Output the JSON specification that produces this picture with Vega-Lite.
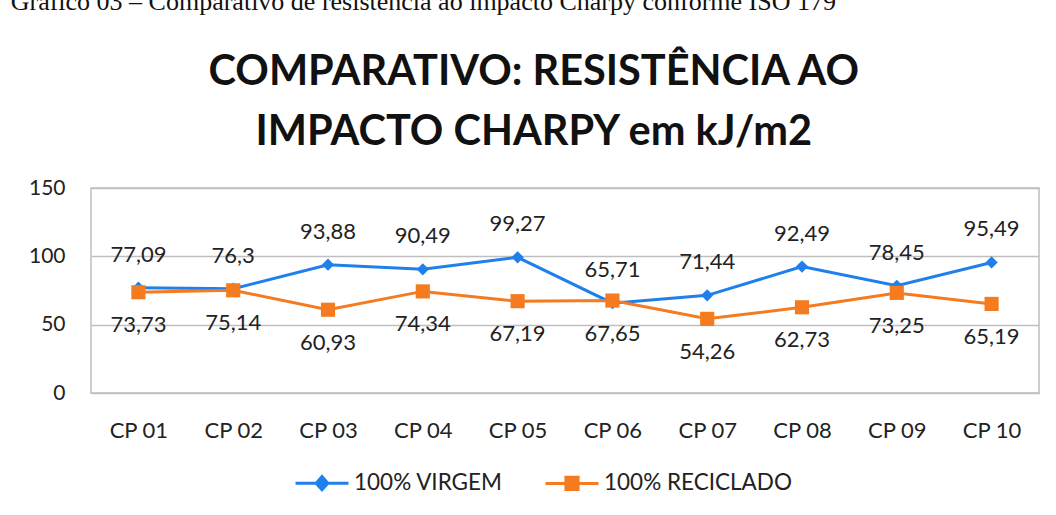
{
  "$schema": "https://vega.github.io/schema/vega-lite/v6.json",
  "background": "white",
  "padding": {"left": 10, "top": -12, "right": 14, "bottom": 0},
  "title": {
    "text": "Gráfico 03 – Comparativo de resistência ao impacto Charpy conforme ISO 179",
    "anchor": "start",
    "font": "Liberation Serif",
    "fontSize": 26,
    "fontWeight": "normal",
    "color": "#111111",
    "dx": -17,
    "offset": 36
  },
  "config": {
    "locale": {"number": {"decimal": ",", "thousands": ".", "grouping": [3], "currency": ["R$", ""]}},
    "view": {"stroke": "#BFBFBF", "strokeWidth": 1.5},
    "font": "Lato",
    "concat": {"spacing": 0}
  },
  "vconcat": [
    {
      "width": 948,
      "height": 205,
      "title": {
        "text": ["COMPARATIVO: RESISTÊNCIA AO", "IMPACTO CHARPY em kJ/m2"],
        "anchor": "middle",
        "frame": "bounds",
        "font": "Lato",
        "fontSize": 41.5,
        "fontWeight": "bold",
        "color": "#111111",
        "lineHeight": 60,
        "baseline": "alphabetic",
        "offset": -9
      },
      "data": {
        "values": [
          {"cp": "CP 01", "serie": "100% VIRGEM", "valor": 77.09},
          {"cp": "CP 02", "serie": "100% VIRGEM", "valor": 76.3},
          {"cp": "CP 03", "serie": "100% VIRGEM", "valor": 93.88},
          {"cp": "CP 04", "serie": "100% VIRGEM", "valor": 90.49},
          {"cp": "CP 05", "serie": "100% VIRGEM", "valor": 99.27},
          {"cp": "CP 06", "serie": "100% VIRGEM", "valor": 65.71},
          {"cp": "CP 07", "serie": "100% VIRGEM", "valor": 71.44},
          {"cp": "CP 08", "serie": "100% VIRGEM", "valor": 92.49},
          {"cp": "CP 09", "serie": "100% VIRGEM", "valor": 78.45},
          {"cp": "CP 10", "serie": "100% VIRGEM", "valor": 95.49},
          {"cp": "CP 01", "serie": "100% RECICLADO", "valor": 73.73},
          {"cp": "CP 02", "serie": "100% RECICLADO", "valor": 75.14},
          {"cp": "CP 03", "serie": "100% RECICLADO", "valor": 60.93},
          {"cp": "CP 04", "serie": "100% RECICLADO", "valor": 74.34},
          {"cp": "CP 05", "serie": "100% RECICLADO", "valor": 67.19},
          {"cp": "CP 06", "serie": "100% RECICLADO", "valor": 67.65},
          {"cp": "CP 07", "serie": "100% RECICLADO", "valor": 54.26},
          {"cp": "CP 08", "serie": "100% RECICLADO", "valor": 62.73},
          {"cp": "CP 09", "serie": "100% RECICLADO", "valor": 73.25},
          {"cp": "CP 10", "serie": "100% RECICLADO", "valor": 65.19}
        ]
      },
      "encoding": {
        "x": {
          "field": "cp", "type": "ordinal",
          "scale": {"type": "point", "padding": 0.5},
          "axis": {"title": null, "labelAngle": 0, "domain": false, "ticks": false, "grid": false,
                   "labelFont": "Lato", "labelFontSize": 22, "labelColor": "#222222", "labelPadding": 27}
        },
        "y": {
          "field": "valor", "type": "quantitative",
          "scale": {"domain": [0, 150], "nice": false},
          "axis": {"title": null, "values": [0, 50, 100, 150], "domain": false, "ticks": false,
                   "gridColor": "#BFBFBF", "gridWidth": 1.5,
                   "labelFont": "Lato", "labelFontSize": 21, "labelColor": "#222222", "labelPadding": 26}
        }
      },
      "layer": [
        {
          "mark": {"type": "line", "strokeWidth": 3},
          "encoding": {
            "color": {
              "field": "serie", "type": "nominal",
              "scale": {"domain": ["100% VIRGEM", "100% RECICLADO"], "range": ["#1F7FEB", "#F47B20"]},
              "legend": {
                "title": null, "orient": "none", "direction": "horizontal",
                "legendX": 203, "legendY": 267,
                "labelFont": "Lato", "labelFontSize": 22.5, "labelColor": "#222222", "labelLimit": 400,
                "symbolSize": 2800, "labelOffset": 4, "columnPadding": 36,
                "encode": {
                  "symbols": {
                    "update": {
                      "shape": {"signal": "datum.value === '100% VIRGEM' ? 'M-1,0H1M-0.22,0L0,-0.25L0.22,0L0,0.25Z' : 'M-1,0H1M-0.23,-0.23H0.23V0.23H-0.23Z'"},
                      "stroke": {"signal": "datum.value === '100% VIRGEM' ? '#1F7FEB' : '#F47B20'"},
                      "fill": {"signal": "datum.value === '100% VIRGEM' ? '#1F7FEB' : '#F47B20'"},
                      "strokeWidth": {"value": 3},
                      "opacity": {"value": 1},
                      "fillOpacity": {"value": 1}
                    }
                  }
                }
              }
            }
          }
        },
        {
          "transform": [{"filter": "datum.serie === '100% VIRGEM'"}],
          "mark": {"type": "point", "filled": true, "opacity": 1, "shape": "diamond", "size": 150, "color": "#1F7FEB"}
        },
        {
          "transform": [{"filter": "datum.serie === '100% RECICLADO'"}],
          "mark": {"type": "point", "filled": true, "opacity": 1, "shape": "square", "size": 200, "color": "#F47B20"}
        },
        {
          "transform": [{"filter": "datum.serie === '100% VIRGEM'"}],
          "mark": {"type": "text", "dy": -33, "font": "Lato", "fontSize": 22, "color": "#222222", "baseline": "middle"},
          "encoding": {
            "text": {"field": "valor", "type": "quantitative", "format": ".2~f"}
          }
        },
        {
          "transform": [{"filter": "datum.serie === '100% RECICLADO'"}],
          "mark": {"type": "text", "dy": 33, "font": "Lato", "fontSize": 22, "color": "#222222", "baseline": "middle"},
          "encoding": {
            "text": {"field": "valor", "type": "quantitative", "format": ".2~f"}
          }
        }
      ]
    }
  ]
}
